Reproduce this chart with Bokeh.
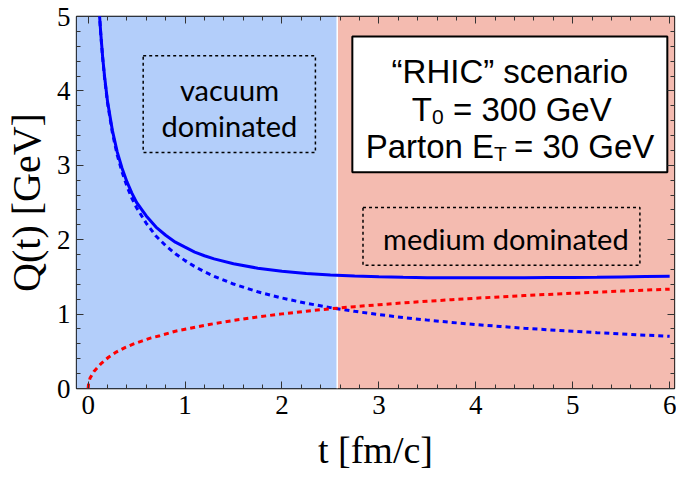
from bokeh.plotting import figure
from bokeh.models import (BoxAnnotation, Span, LinearAxis, Range1d, SingleIntervalTicker,
                          CustomJSTickFormatter)
from bokeh.core.properties import value
from bokeh.embed import file_html
from bokeh.resources import INLINE

# ---- data ----
t_total = [0.11, 0.12, 0.13, 0.15, 0.17, 0.2, 0.25, 0.3, 0.35, 0.4, 0.45, 0.5, 0.6, 0.7, 0.8,
           0.9, 1.0, 1.1, 1.2, 1.3, 1.5, 1.75, 2.0, 2.25, 2.5, 2.75, 3.0, 3.25, 3.5, 3.75,
           4.0, 4.25, 4.5, 4.75, 5.0, 5.25, 5.5, 5.75, 6.0]
q_total = [5.19, 4.97, 4.78, 4.45, 4.19, 3.86, 3.47, 3.18, 2.96, 2.78, 2.63, 2.50, 2.32, 2.17, 2.06,
           1.967, 1.90, 1.834, 1.784, 1.742, 1.676, 1.617, 1.576, 1.547, 1.526, 1.511, 1.501, 1.494,
           1.490, 1.488, 1.487, 1.488, 1.489, 1.491, 1.493, 1.496, 1.500, 1.504, 1.508]
t_vac = [0.11, 0.12, 0.13, 0.15, 0.17, 0.2, 0.25, 0.3, 0.35, 0.4, 0.45, 0.5, 0.6, 0.7, 0.8,
         0.9, 1.0, 1.1, 1.2, 1.3, 1.5, 1.75, 2.0, 2.25, 2.5, 2.75, 3.0, 3.25, 3.5, 3.75,
         4.0, 4.25, 4.5, 4.75, 5.0, 5.25, 5.5, 5.75, 6.0]
q_vac = [5.18, 4.96, 4.77, 4.44, 4.17, 3.84, 3.44, 3.14, 2.91, 2.72, 2.56, 2.43, 2.22, 2.05, 1.92,
         1.812, 1.719, 1.639, 1.569, 1.508, 1.404, 1.300, 1.216, 1.146, 1.087, 1.037, 0.993, 0.954,
         0.919, 0.888, 0.860, 0.834, 0.810, 0.789, 0.769, 0.750, 0.733, 0.717, 0.702]
t_med = [0, 0.005, 0.02, 0.06, 0.13, 0.21, 0.29, 0.38, 0.47, 0.56, 0.65, 0.74, 0.9, 1.0,
         1.25, 1.5, 1.75, 2.0, 2.25, 2.5, 2.75, 3.0, 3.25, 3.5, 3.75, 4.0, 4.25, 4.5, 4.75,
         5.0, 5.25, 5.5, 5.75, 6.0]
q_med = [0, 0.07, 0.14, 0.23, 0.33, 0.42, 0.49, 0.55, 0.60, 0.64, 0.68, 0.71, 0.77, 0.796,
         0.861, 0.915, 0.962, 1.003, 1.039, 1.071, 1.100, 1.126, 1.151, 1.173, 1.194, 1.214,
         1.232, 1.249, 1.265, 1.280, 1.295, 1.309, 1.322, 1.335]
t_split = 2.57

x_label = "t [fm/c]"
y_label = "Q(t) [GeV]"

BLUE_BG = "#B3CEFA"
RED_BG = "#F4BBB0"

p = figure(width=676, height=473, x_range=Range1d(-0.12, 6.05), y_range=Range1d(0, 5),
           output_backend="svg", toolbar_location=None,
           min_border_left=0, min_border_top=16, min_border_right=2, min_border_bottom=0)
p.grid.visible = False
p.outline_line_color = "black"
p.outline_line_width = 1.3
p.outline_line_alpha = 1.0
p.background_fill_color = "white"

# background regions
p.add_layout(BoxAnnotation(right=t_split, fill_color=BLUE_BG, fill_alpha=1.0,
                           line_color=None, level="underlay"))
p.add_layout(BoxAnnotation(left=t_split, fill_color=RED_BG, fill_alpha=1.0,
                           line_color=None, level="underlay"))
p.add_layout(Span(location=t_split, dimension="height", line_color="white",
                  line_width=1.5, line_alpha=1.0, level="underlay"))

# RHIC info box (white, solid border)
p.add_layout(BoxAnnotation(left=2.726, right=5.976, bottom=2.907, top=4.731,
                           fill_color="white", fill_alpha=1.0, line_color="black",
                           line_alpha=1.0, line_width=2, level="underlay"))

# curves
p.line(t_vac, q_vac, line_color="#0000FF", line_width=3, line_dash="5 4")
p.line(t_med, q_med, line_color="#FF0000", line_width=3, line_dash="5 4")
p.line(t_total, q_total, line_color="#0000FF", line_width=3)

# dotted label boxes
p.add_layout(BoxAnnotation(left=0.568, right=2.345, bottom=3.172, top=4.474,
                           fill_alpha=0, line_color="black", line_alpha=1.0, line_width=1.5,
                           line_dash="3 3", level="overlay"))
p.add_layout(BoxAnnotation(left=2.836, right=5.693, bottom=1.658, top=2.434,
                           fill_alpha=0, line_color="black", line_alpha=1.0, line_width=1.5,
                           line_dash="3 3", level="overlay"))

lab_font = value("Lato")
p.text(x=[1.458, 1.458, 4.31], y=[4.02, 3.53, 2.01],
       text=["vacuum", "dominated", "medium dominated"],
       text_font=lab_font, text_font_size="29px", text_color="black",
       text_align="center", text_baseline="alphabetic")

sans = value("Liberation Sans")
p.text(x=[4.351], y=[4.26], text=["\u201cRHIC\u201d scenario"], text_font=sans,
       text_font_size="33px", text_align="center", text_baseline="alphabetic",
       text_color="black")
# T0 = 300 GeV
p.text(x=[3.548], y=[3.75], text=["T"], text_font=sans, text_font_size="33px",
       text_align="right", text_baseline="alphabetic", text_color="black")
p.text(x=[3.548], y=[3.75], text=["0"], text_font=sans, text_font_size="21px",
       text_align="left", text_baseline="alphabetic", y_offset=7, text_color="black")
p.text(x=[3.548], y=[3.75], text=["= 300 GeV"], text_font=sans, text_font_size="33px",
       text_align="left", text_baseline="alphabetic", x_offset=21, text_color="black")
# Parton ET = 30 GeV
p.text(x=[4.188], y=[3.25], text=["Parton E"], text_font=sans, text_font_size="33px",
       text_align="right", text_baseline="alphabetic", text_color="black")
p.text(x=[4.188], y=[3.25], text=["T"], text_font=sans, text_font_size="21px",
       text_align="left", text_baseline="alphabetic", y_offset=7, text_color="black")
p.text(x=[4.188], y=[3.25], text=["= 30 GeV"], text_font=sans, text_font_size="33px",
       text_align="left", text_baseline="alphabetic", x_offset=20, text_color="black")

# axes
def style_axis(ax, show_labels):
    ax.ticker = SingleIntervalTicker(interval=1, num_minor_ticks=5)
    ax.axis_line_color = None
    ax.major_tick_in = 7
    ax.major_tick_out = 0
    ax.minor_tick_in = 4
    ax.minor_tick_out = 0
    ax.major_tick_line_color = "#333333"
    ax.minor_tick_line_color = "#333333"
    ax.major_tick_line_width = 1
    ax.minor_tick_line_width = 1
    if show_labels:
        ax.major_label_text_font = "Liberation Serif"
        ax.major_label_text_font_size = "27px"
        ax.major_label_text_color = "black"
        ax.axis_label_text_font = "Liberation Serif"
        ax.axis_label_text_font_style = "normal"
        ax.axis_label_text_color = "black"
    else:
        ax.formatter = CustomJSTickFormatter(code="return ''")
        ax.major_label_standoff = 0

style_axis(p.xaxis[0], True)
style_axis(p.yaxis[0], True)
p.xaxis[0].axis_label = x_label
p.yaxis[0].axis_label = y_label
p.xaxis[0].axis_label_text_font_size = "38px"
p.yaxis[0].axis_label_text_font_size = "40px"
p.xaxis[0].major_label_standoff = 7
p.xaxis[0].axis_label_standoff = 12
p.yaxis[0].major_label_standoff = 6
p.yaxis[0].axis_label_standoff = 5

top_ax = LinearAxis()
style_axis(top_ax, False)
p.add_layout(top_ax, "above")
right_ax = LinearAxis()
style_axis(right_ax, False)
p.add_layout(right_ax, "right")

open("out.html", "w").write(file_html(p, INLINE))
